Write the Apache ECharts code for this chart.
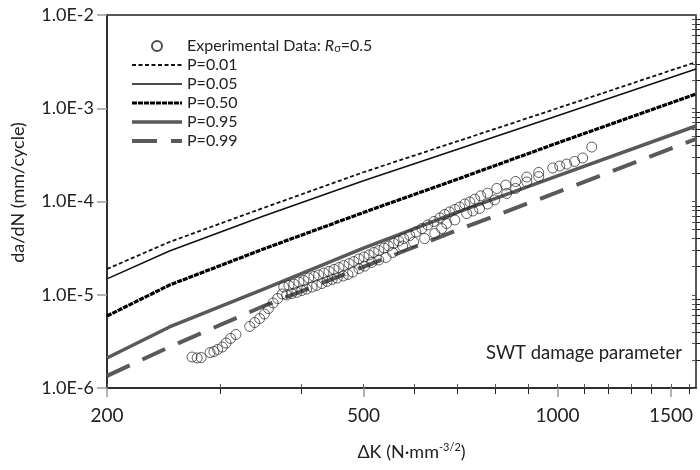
<!DOCTYPE html>
<html>
<head>
<meta charset="utf-8">
<script src="https://cdn.jsdelivr.net/npm/echarts@6/dist/echarts.min.js"></script>
<style>
  html, body { margin: 0; padding: 0; background: #fff; }
  #main { width: 700px; height: 470px; }
</style>
</head>
<body>
<div id="main"></div>
<script>
// experimental points: dK (N*mm^-3/2) and da/dN (mm/cycle)
var expDeltaK = [
  271, 276, 280, 289, 293, 297, 302, 306, 311, 317, 333, 339, 345, 351, 356, 362, 368, 374,
  376, 383, 390, 397, 404, 411, 419, 426, 434, 442, 450, 458, 466, 475, 483, 492, 501, 510,
  519, 528, 538, 547, 557, 567, 577, 590, 603, 616, 629, 643, 657, 668, 680, 693, 705, 718,
  731, 744, 760, 779, 805, 831, 861, 896, 935, 983, 1008, 1033, 1063, 1094, 1130,
  380, 387, 394, 401, 408, 416, 423, 431, 439, 447, 455, 465, 473, 481, 492, 502, 515, 528,
  542, 555, 575, 598, 622, 645, 661, 673, 693, 723, 739, 757, 779, 799, 834, 861, 896, 935
];
var expRate = [
  2.15e-6, 2.10e-6, 2.12e-6, 2.40e-6, 2.46e-6, 2.59e-6, 2.75e-6, 3.04e-6, 3.40e-6, 3.75e-6,
  4.57e-6, 5.04e-6, 5.56e-6, 6.22e-6, 7.12e-6, 8.16e-6, 9.12e-6, 1.02e-5,
  1.21e-5, 1.26e-5, 1.30e-5, 1.37e-5, 1.42e-5, 1.51e-5, 1.57e-5, 1.63e-5, 1.71e-5, 1.78e-5,
  1.87e-5, 1.96e-5, 2.06e-5, 2.16e-5, 2.27e-5, 2.42e-5, 2.54e-5, 2.67e-5, 2.84e-5, 2.98e-5,
  3.17e-5, 3.33e-5, 3.55e-5, 3.77e-5, 4.01e-5, 4.32e-5, 4.71e-5, 5.13e-5, 5.60e-5, 6.10e-5,
  6.66e-5, 7.26e-5, 7.72e-5, 8.21e-5, 8.73e-5, 9.40e-5, 9.88e-5, 1.06e-4, 1.15e-4, 1.23e-4,
  1.38e-4, 1.50e-4, 1.64e-4, 1.83e-4, 2.05e-4, 2.29e-4, 2.40e-4, 2.52e-4, 2.69e-4, 2.93e-4, 3.84e-4,
  9.94e-6, 1.03e-5, 1.06e-5, 1.11e-5, 1.15e-5, 1.21e-5, 1.26e-5, 1.32e-5, 1.39e-5, 1.46e-5,
  1.51e-5, 1.59e-5, 1.65e-5, 1.75e-5, 1.91e-5, 2.03e-5, 2.22e-5, 2.36e-5, 2.51e-5, 2.84e-5,
  3.33e-5, 3.68e-5, 4.01e-5, 4.54e-5, 5.13e-5, 5.81e-5, 6.33e-5, 7.43e-5, 7.91e-5, 8.41e-5,
  9.40e-5, 1.04e-4, 1.22e-4, 1.38e-4, 1.62e-4, 1.85e-4
];

// model curves for each probability
var modelDeltaK = [200, 250, 350, 500, 700, 1000, 1640];
var rateP01 = [1.89e-5, 3.68e-5, 8.55e-5, 2.06e-4, 4.43e-4, 1.00e-3, 3.13e-3];
var rateP05 = [1.48e-5, 2.94e-5, 6.99e-5, 1.67e-4, 3.63e-4, 8.32e-4, 2.64e-3];
var rateP50 = [5.92e-6, 1.27e-5, 3.10e-5, 7.62e-5, 1.74e-4, 4.24e-4, 1.42e-3];
var rateP95 = [2.10e-6, 4.51e-6, 1.15e-5, 3.17e-5, 7.71e-5, 1.88e-4, 6.45e-4];
var rateP99 = [1.35e-6, 2.75e-6, 7.57e-6, 1.99e-5, 4.95e-5, 1.26e-4, 4.68e-4];

// axis ticks
var xRange = [200, 1640];
var xLabelValues = [200, 500, 1000, 1500];
var xMinorTicks = [300, 400, 600, 700, 800, 900, 1100, 1200, 1300, 1400, 1600];
var yDecades = [-6, -5, -4, -3, -2];
var yMantissas = [2, 3, 4, 5, 6, 7, 8, 9];

var font = 'Lato, "Open Sans", sans-serif';
var lg = Math.log10;

function pairs(xs, ys) {
  return xs.map(function (x, i) { return [lg(x), lg(ys[i])]; });
}

var yMinor = [];
yDecades.slice(0, -1).forEach(function (d) {
  yMantissas.forEach(function (m) { yMinor.push(d + lg(m)); });
});
var xAll = xLabelValues.concat(xMinorTicks).map(lg);

var myChart = echarts.init(document.getElementById('main'));

// line series draw no symbols; the transparent item colour hides the legend dot
var lineBase = {
  type: 'line', symbol: 'none', showSymbol: false, silent: true, z: 2,
  itemStyle: { color: 'rgba(0,0,0,0)', borderWidth: 0 }
};

var option = {
  backgroundColor: '#fff',
  animation: false,
  grid: { left: 107, right: 4, top: 15, bottom: 82, show: true, borderColor: '#222', borderWidth: 1.5 },
  legend: {
    orient: 'vertical', left: 125, top: 33, itemWidth: 50, itemHeight: 10, itemGap: 3,
    selectedMode: false,
    lineStyle: { width: 'inherit' },
    textStyle: {
      fontFamily: font, fontSize: 16, color: '#222',
      rich: {
        n: { fontFamily: font, fontSize: 16, color: '#222' },
        i: { fontFamily: font, fontSize: 16, color: '#222', fontStyle: 'italic' },
        s: { fontFamily: font, fontSize: 11, color: '#222', padding: [5, 0, 0, 0] }
      }
    },
    formatter: function (name) {
      if (name.indexOf('Experimental') === 0) {
        return '{n|Experimental Data: }{i|R}{s|σ}{n|=0.5}';
      }
      return name;
    },
    data: ['Experimental Data', 'P=0.01', 'P=0.05', 'P=0.50', 'P=0.95', 'P=0.99']
  },
  xAxis: [{
    type: 'value', min: lg(xRange[0]), max: lg(xRange[1]), position: 'bottom',
    axisLine: { onZero: false, lineStyle: { color: '#222', width: 1.5 } },
    axisTick: { length: 9, customValues: xLabelValues.map(lg), lineStyle: { color: '#999', width: 1.5 } },
    axisLabel: {
      customValues: xLabelValues.map(lg), margin: 18,
      fontFamily: font, fontSize: 19, color: '#222',
      formatter: function (v) { return String(Math.round(Math.pow(10, v))); }
    },
    splitLine: { show: false },
    name: 'ΔK (N·mm{sup|-3/2})', nameLocation: 'middle', nameGap: 54,
    nameTextStyle: {
      fontFamily: font, fontSize: 18, color: '#222', padding: [0, 0, 0, 20],
      rich: { sup: { fontFamily: font, fontSize: 11, color: '#222', padding: [0, 0, 9, 0] } }
    }
  }, {
    type: 'value', min: lg(xRange[0]), max: lg(xRange[1]), position: 'bottom',
    axisLine: { show: false, onZero: false },
    axisTick: { length: 6, customValues: xMinorTicks.map(lg), lineStyle: { color: '#222', width: 1 } },
    axisLabel: { show: false },
    splitLine: { show: false }
  }, {
    type: 'value', min: lg(xRange[0]), max: lg(xRange[1]), position: 'bottom',
    axisLine: { show: false, onZero: false },
    axisTick: { inside: true, length: 4, customValues: xAll, lineStyle: { color: '#555', width: 1 } },
    axisLabel: { show: false },
    splitLine: { show: false }
  }],
  yAxis: [{
    type: 'value', min: -6, max: -2, interval: 1,
    axisLine: { show: true, onZero: false, lineStyle: { color: '#222', width: 1.5 } },
    axisTick: { length: 10, lineStyle: { color: '#999', width: 1.5 } },
    axisLabel: {
      margin: 13, fontFamily: font, fontSize: 18, color: '#222',
      formatter: function (v) { return '1.0E' + Math.round(v); }
    },
    splitLine: { show: false },
    name: 'da/dN (mm/cycle)', nameLocation: 'middle', nameGap: 80, nameRotate: 90,
    nameTextStyle: { fontFamily: font, fontSize: 18, color: '#222', padding: [0, 0, 0, 18] }
  }, {
    type: 'value', min: -6, max: -2,
    axisLine: { show: false, onZero: false },
    axisTick: { length: 5, customValues: yMinor, lineStyle: { color: '#222', width: 1 } },
    axisLabel: { show: false },
    splitLine: { show: false }
  }, {
    type: 'value', min: -6, max: -2,
    axisLine: { show: false, onZero: false },
    axisTick: { inside: true, length: 4, customValues: yMinor.concat(yDecades), lineStyle: { color: '#555', width: 1 } },
    axisLabel: { show: false },
    splitLine: { show: false }
  }],
  graphic: [{
    type: 'text', right: 18, top: 344,
    style: { text: 'SWT damage parameter', fontFamily: font, fontSize: 18.5, fill: '#222' }
  }],
  series: [{
    name: 'Experimental Data', type: 'scatter', symbol: 'circle', symbolSize: 10, z: 3,
    itemStyle: { color: 'rgba(255,255,255,0)', borderColor: '#222', borderWidth: 0.9 },
    data: pairs(expDeltaK, expRate)
  }, Object.assign({}, lineBase, {
    name: 'P=0.01', lineStyle: { color: '#111', width: 1.8, type: [4, 2.5] },
    data: pairs(modelDeltaK, rateP01)
  }), Object.assign({}, lineBase, {
    name: 'P=0.05', lineStyle: { color: '#111', width: 1.6, type: 'solid' },
    data: pairs(modelDeltaK, rateP05)
  }), Object.assign({}, lineBase, {
    name: 'P=0.50', lineStyle: { color: '#000', width: 3.2, type: [5, 1] },
    data: pairs(modelDeltaK, rateP50)
  }), Object.assign({}, lineBase, {
    name: 'P=0.95', lineStyle: { color: '#595959', width: 3.5, type: 'solid' },
    data: pairs(modelDeltaK, rateP95)
  }), Object.assign({}, lineBase, {
    name: 'P=0.99', lineStyle: { color: '#595959', width: 4, type: [25, 14] },
    data: pairs(modelDeltaK, rateP99)
  })]
};

myChart.setOption(option);
</script>
</body>
</html>
